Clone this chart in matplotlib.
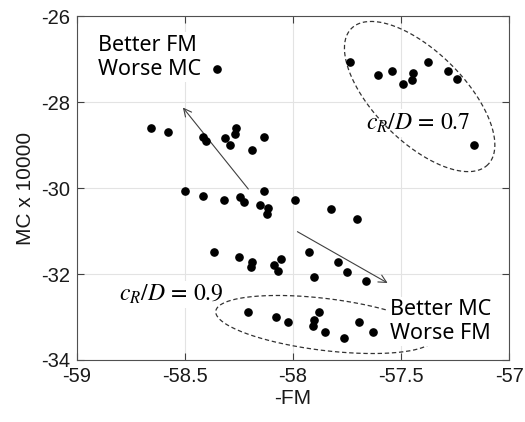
import numpy as np
import matplotlib
matplotlib.use('Agg')
import matplotlib.pyplot as plt

plt.rcParams['font.family'] = ['Liberation Sans', 'DejaVu Sans']
plt.rcParams['mathtext.fontset'] = 'stix'
plt.rcParams['axes.unicode_minus'] = False

# -FM (x) and MC x 10000 (y) for each design point
# general cloud
fm_mid = [-58.353, -58.657, -58.579, -58.415, -58.403, -58.315, -58.265, -58.267,
          -58.290, -58.188, -58.133,
          -58.500, -58.418, -58.318, -58.244, -58.228, -58.136, -58.153, -58.114,
          -58.122, -57.991, -57.824, -57.702,
          -58.364, -58.249, -58.191, -58.194, -58.086, -58.056, -58.070, -57.925,
          -57.792, -57.749, -57.904, -57.662]
mc_mid = [-27.22, -28.59, -28.69, -28.80, -28.90, -28.84, -28.59, -28.74,
          -29.00, -29.10, -28.80,
          -30.06, -30.17, -30.27, -30.21, -30.33, -30.06, -30.38, -30.47,
          -30.61, -30.28, -30.49, -30.72,
          -31.49, -31.61, -31.72, -31.84, -31.78, -31.66, -31.93, -31.49,
          -31.72, -31.95, -32.06, -32.17]
# cR/D = 0.9 group
fm_09 = [-58.210, -58.077, -58.025, -57.881, -57.903, -57.906, -57.853, -57.762,
         -57.696, -57.628]
mc_09 = [-32.89, -33.00, -33.12, -32.89, -33.06, -33.21, -33.34, -33.48,
         -33.12, -33.34]
# cR/D = 0.7 group
fm_07 = [-57.736, -57.608, -57.543, -57.491, -57.451, -57.443, -57.375, -57.282,
         -57.241, -57.162]
mc_07 = [-27.07, -27.37, -27.26, -27.57, -27.47, -27.31, -27.07, -27.26,
         -27.46, -29.00]

xticks = [-59, -58.5, -58, -57.5, -57]
xticklabels = ['-59', '-58.5', '-58', '-57.5', '-57']
yticks = [-34, -32, -30, -28, -26]
yticklabels = ['-34', '-32', '-30', '-28', '-26']


def dashed_ellipse(ax, c, u, v):
    # ellipse from two conjugate half-axis vectors in data units
    t = np.linspace(0, 2*np.pi, 300)
    x = c[0] + u[0]*np.cos(t) + v[0]*np.sin(t)
    y = c[1] + u[1]*np.cos(t) + v[1]*np.sin(t)
    ax.plot(x, y, '--', color='#333333', lw=0.9, dashes=(3.5, 2.2), zorder=4)


fig = plt.figure(figsize=(5.25, 4.22), dpi=100)
ax = fig.add_axes([0.1467, 0.147, 0.823, 0.814])

ax.plot(fm_mid + fm_09 + fm_07, mc_mid + mc_09 + mc_07, 'o', color='black',
        ms=5.2, mec='black', zorder=5)

ax.set_xlim(-59, -57)
ax.set_ylim(-34, -26)
ax.set_xticks(xticks)
ax.set_xticklabels(xticklabels)
ax.set_yticks(yticks)
ax.set_yticklabels(yticklabels)
ax.grid(True, color='#e3e3e3', lw=0.8)
ax.set_axisbelow(True)
ax.tick_params(direction='in', length=5, width=0.8, color='#404040',
               top=True, right=True, labelsize=14.5, labelcolor='#1a1a1a', pad=5)
for s in ax.spines.values():
    s.set_color('#505050')
    s.set_linewidth(0.8)

ax.set_xlabel('-FM', fontsize=15, labelpad=2, color='#1a1a1a')
ax.set_ylabel('MC x 10000', fontsize=15, labelpad=4, color='#1a1a1a')

# ellipses around the two clearance groups
dashed_ellipse(ax, (-57.414, -27.865), (0.3157, -1.586), (-0.1468, -0.737))
dashed_ellipse(ax, (-57.852, -33.174), (0.5056, -0.3116), (-0.0148, -0.60))

# trend arrows
ax.annotate('', xy=(-58.518, -28.07), xytext=(-58.199, -30.07),
            arrowprops=dict(arrowstyle='->', color='#404040', lw=0.8,
                            mutation_scale=14), zorder=3)
ax.annotate('', xy=(-57.551, -32.24), xytext=(-57.991, -30.98),
            arrowprops=dict(arrowstyle='->', color='#404040', lw=0.8,
                            mutation_scale=14), zorder=3)

box = dict(facecolor='white', edgecolor='none', pad=1.5)
ax.text(-58.904, -26.95, 'Better FM\nWorse MC', family=['Noto Sans', 'DejaVu Sans'],
        fontsize=15.5, ha='left', va='center', linespacing=1.2, bbox=box, zorder=6)
ax.text(-57.551, -33.10, 'Better MC\nWorse FM', family=['Noto Sans', 'DejaVu Sans'],
        fontsize=15.5, ha='left', va='center', linespacing=1.2, bbox=box, zorder=6)
ax.text(-57.421, -28.48, r'$c_R/D\, =\, 0.7$', fontsize=17, ha='center',
        va='center', bbox=box, zorder=3)
ax.text(-58.562, -32.48, r'$c_R/D\, =\, 0.9$', fontsize=17, ha='center',
        va='center', bbox=box, zorder=3)

fig.savefig('out.png', dpi=100)
